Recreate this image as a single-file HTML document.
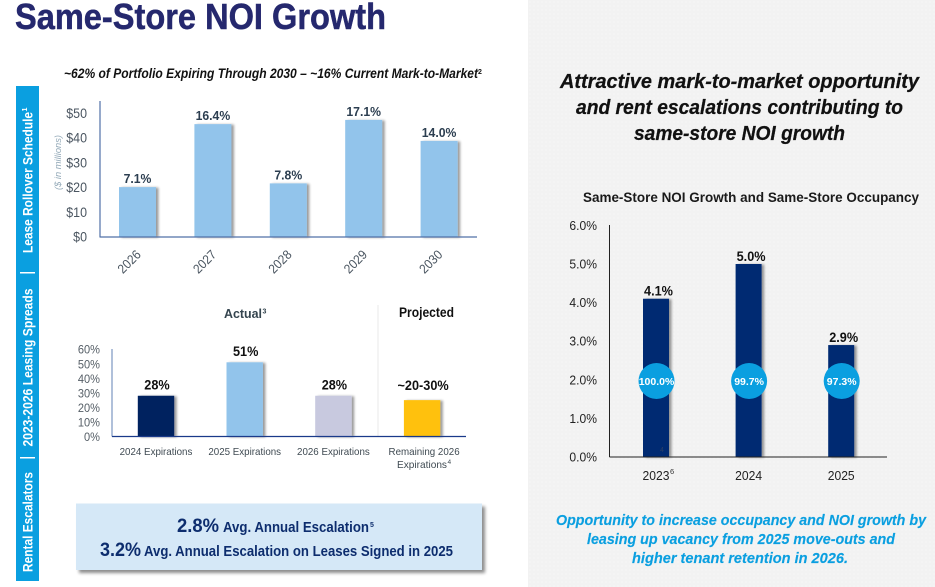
<!DOCTYPE html>
<html lang="en">
<head>
<meta charset="utf-8">
<title>Same-Store NOI Growth</title>
<style>
html,body{margin:0;padding:0;background:#fff;width:935px;height:587px;overflow:hidden}
svg{display:block;font-family:"Liberation Sans",sans-serif}
</style>
</head>
<body>
<svg id="page" width="935" height="587" viewBox="0 0 935 587" xmlns="http://www.w3.org/2000/svg">
<defs>
<pattern id="dots" width="4" height="4" patternUnits="userSpaceOnUse"><rect width="4" height="4" fill="#f2f2f2"/><circle cx="2" cy="2" r="0.7" fill="#f8f8f8"/></pattern>
<filter id="barShadow" x="-30%" y="-10%" width="170%" height="120%"><feGaussianBlur in="SourceAlpha" stdDeviation="1.3"/><feOffset dx="2.5" dy="0.5"/><feComponentTransfer><feFuncA type="linear" slope="0.4"/></feComponentTransfer><feMerge><feMergeNode/><feMergeNode in="SourceGraphic"/></feMerge></filter>
<filter id="boxShadow" x="-5%" y="-10%" width="110%" height="125%"><feGaussianBlur in="SourceAlpha" stdDeviation="1.5"/><feOffset dx="3" dy="3"/><feComponentTransfer><feFuncA type="linear" slope="0.45"/></feComponentTransfer><feMerge><feMergeNode/><feMergeNode in="SourceGraphic"/></feMerge></filter>
</defs>

<rect x="528" y="0" width="407" height="587" fill="url(#dots)"/>

<text x="15" y="29" font-size="36" font-weight="700" fill="#25286e" stroke="#25286e" stroke-width="0.5" textLength="371" lengthAdjust="spacingAndGlyphs">Same-Store NOI Growth</text>

<rect x="16" y="86" width="23" height="495" fill="#0a9fe0"/>
<g fill="#fff" font-size="14" font-weight="700">
<text transform="translate(32.5,253) rotate(-90)" textLength="141" lengthAdjust="spacingAndGlyphs">Lease Rollover Schedule</text>
<text transform="translate(27,111.5) rotate(-90)" font-size="7">1</text>
<rect x="20" y="272" width="15" height="1.5"/>
<text transform="translate(32.5,446.5) rotate(-90)" textLength="158" lengthAdjust="spacingAndGlyphs">2023-2026 Leasing Spreads</text>
<rect x="20" y="457" width="15" height="1.5"/>
<text transform="translate(32.5,572) rotate(-90)" textLength="100" lengthAdjust="spacingAndGlyphs">Rental Escalators</text>
</g>

<text x="64" y="78" font-size="13.5" font-weight="700" font-style="italic" fill="#111" textLength="414" lengthAdjust="spacingAndGlyphs">~62% of Portfolio Expiring Through 2030 – ~16% Current Mark-to-Market</text>
<text x="478" y="74" font-size="7" font-weight="700" fill="#111">2</text>
<text transform="translate(61,190) rotate(-90)" font-size="9.5" font-style="italic" fill="#93a9b8" textLength="55" lengthAdjust="spacingAndGlyphs">($ in millions)</text>
<g id="chart-rollover"></g>

<line x1="378" y1="305" x2="378" y2="436" stroke="#e8e8e8" stroke-width="1"/>
<text x="224" y="318" font-size="13" font-weight="700" fill="#35454f" textLength="38" lengthAdjust="spacingAndGlyphs">Actual</text>
<text x="262.5" y="313.5" font-size="7" font-weight="700" fill="#35454f">3</text>
<text x="399" y="317" font-size="13.5" font-weight="700" fill="#111" textLength="55" lengthAdjust="spacingAndGlyphs">Projected</text>
<g id="chart-spreads"></g>
<text x="397" y="468" font-size="10.5" fill="#3f4a52" textLength="50" lengthAdjust="spacingAndGlyphs">Expirations</text>
<text x="447.5" y="464" font-size="6.5" fill="#3f4a52">4</text>

<rect x="76" y="503.5" width="406" height="66.5" fill="#d5e8f7" filter="url(#boxShadow)"/>
<g fill="#0d2d6e" font-weight="700">
<text x="177" y="532" font-size="19" textLength="42" lengthAdjust="spacingAndGlyphs">2.8%</text>
<text x="223" y="532" font-size="14.5" textLength="146" lengthAdjust="spacingAndGlyphs">Avg. Annual Escalation</text>
<text x="370" y="527" font-size="7">5</text>
<text x="100" y="556" font-size="19" textLength="41" lengthAdjust="spacingAndGlyphs">3.2%</text>
<text x="144" y="556" font-size="14.5" textLength="309" lengthAdjust="spacingAndGlyphs">Avg. Annual Escalation on Leases Signed in 2025</text>
</g>

<g fill="#111" stroke="#111" stroke-width="0.25" font-size="20.5" font-weight="700" font-style="italic">
<text x="560" y="88" textLength="359" lengthAdjust="spacingAndGlyphs">Attractive mark-to-market opportunity</text>
<text x="576" y="114" textLength="327" lengthAdjust="spacingAndGlyphs">and rent escalations contributing to</text>
<text x="634" y="140" textLength="211" lengthAdjust="spacingAndGlyphs">same-store NOI growth</text>
</g>

<text x="583" y="202" font-size="14" font-weight="700" fill="#1a1a1a" textLength="336" lengthAdjust="spacingAndGlyphs">Same-Store NOI Growth and Same-Store Occupancy</text>
<g id="chart-noi"></g>
<text x="670" y="474" font-size="7.5" fill="#333">6</text>
<text x="660" y="452" font-size="7" fill="#2a3f66">4</text>

<g fill="#0a9fe0" stroke="#0a9fe0" stroke-width="0.15" font-size="15" font-weight="700" font-style="italic">
<text x="556" y="525" textLength="370" lengthAdjust="spacingAndGlyphs">Opportunity to increase occupancy and NOI growth by</text>
<text x="587" y="544" textLength="308" lengthAdjust="spacingAndGlyphs">leasing up vacancy from 2025 move-outs and</text>
<text x="632" y="563" textLength="216" lengthAdjust="spacingAndGlyphs">higher tenant retention in 2026.</text>
</g>

<script>
// Lease rollover chart data
var rolloverYears = ['2026','2027','2028','2029','2030'];
var rolloverValues = [20.2,45.7,21.7,47.4,38.9];
var rolloverLabels = ['7.1%','16.4%','7.8%','17.1%','14.0%'];
var rolloverTicks = [0,10,20,30,40,50];

// Leasing spreads chart data
var spreadCategories = ['2024 Expirations','2025 Expirations','2026 Expirations','Remaining 2026'];
var spreadValues = [28,51,28,25];
var spreadLabels = ['28%','51%','28%','~20-30%'];
var spreadColors = ['#02205f','#92c4eb','#c8c9df','#ffc10e'];
var spreadTicks = [0,10,20,30,40,50,60];

// NOI growth and occupancy chart data
var noiYears = ['2023','2024','2025'];
var noiValues = [4.1,5.0,2.9];
var noiLabels = ['4.1%','5.0%','2.9%'];
var occupancyLabels = ['100.0%','99.7%','97.3%'];
var noiTicks = [0,1,2,3,4,5,6];

var NS = 'http://www.w3.org/2000/svg';
function make(tag, parent, attrs, txt){
  var el = document.createElementNS(NS, tag);
  for (var k in attrs) el.setAttribute(k, attrs[k]);
  if (txt !== undefined) el.textContent = txt;
  parent.appendChild(el);
  return el;
}
// Narrow a label horizontally so its taller glyphs keep the reference's width.
function narrow(el, factor){
  el.setAttribute('textLength', el.getComputedTextLength() * factor);
  el.setAttribute('lengthAdjust', 'spacingAndGlyphs');
  return el;
}

// ---------- Lease rollover ----------
(function(){
  var g = document.getElementById('chart-rollover');
  var x0 = 100, x1 = 477, y0 = 237;
  function y(v){ return y0 - v * 2.47; }
  function band(i){ return x0 + 37.5 + i * 75.4; }
  var el;
  rolloverTicks.forEach(function(t){
    el = narrow(make('text', g, {x:87, y:y(t)+4.5, 'text-anchor':'end', 'font-size':13.5, fill:'#4a5560'}, '$'+t), 0.92);
    
    
  });
  rolloverYears.forEach(function(c,i){
    var cx = band(i), top = y(rolloverValues[i]);
    el = make('rect', g, {x:cx-18.5, y:top, width:37, height:y0-top, fill:'#92c4eb', filter:'url(#barShadow)'});
    
    
    el = narrow(make('text', g, {x:cx, y:top-4, 'text-anchor':'middle', 'font-size':13, 'font-weight':700, fill:'#2c3e50'}, rolloverLabels[i]), 0.94);
    
    
    el = narrow(make('text', g, {x:cx-8, y:266, 'text-anchor':'middle', 'font-size':13, fill:'#4a5560', transform:'rotate(-45 '+(cx-8)+' 262)'}, c), 0.92);
    
    
  });
  el = make('line', g, {x1:x0, y1:101, x2:x0, y2:y0+0.5, stroke:'#5070a8', 'stroke-width':1.2});
  
  
  el = make('line', g, {x1:x0, y1:y0, x2:x1, y2:y0, stroke:'#5070a8', 'stroke-width':1.2});
  
  
})();

// ---------- Leasing spreads ----------
(function(){
  var g = document.getElementById('chart-spreads');
  var x0 = 112, x1 = 466, y0 = 436.5;
  function y(v){ return y0 - v * 1.455; }
  function band(i){ return x0 + 44 + i * 88.7; }
  var el;
  spreadTicks.forEach(function(t){
    el = narrow(make('text', g, {x:100, y:y(t)+4.5, 'text-anchor':'end', 'font-size':12, fill:'#555e66'}, t+'%'), 0.92);
    
    
  });
  spreadCategories.forEach(function(c,i){
    var cx = band(i), top = y(spreadValues[i]);
    el = make('rect', g, {x:cx-18.2, y:top, width:36.4, height:y0-top, fill:spreadColors[i], filter:'url(#barShadow)'});
    
    
    el = narrow(make('text', g, {x:cx+1, y:top-(i===3?10:6.5), 'text-anchor':'middle', 'font-size':13.5, 'font-weight':700, fill:'#111'}, spreadLabels[i]), 0.94);
    
    
    el = narrow(make('text', g, {x:cx+(i===3?2:0), y:455, 'text-anchor':'middle', 'font-size':10.5, fill:'#3f4a52'}, c), 0.93);
    
    
  });
  el = make('line', g, {x1:x0, y1:349, x2:x0, y2:y0, stroke:'#7a95c0', 'stroke-width':1.2});
  
  
  el = make('line', g, {x1:x0, y1:y0, x2:x1, y2:y0, stroke:'#1a3a8a', 'stroke-width':1.2});
  
  
})();

// ---------- NOI growth ----------
(function(){
  var g = document.getElementById('chart-noi');
  var x0 = 609.5, x1 = 887, y0 = 457;
  function y(v){ return y0 - v * 38.6; }
  function band(i){ return x0 + 46.5 + i * 92.6; }
  var el;
  noiTicks.forEach(function(t){
    el = narrow(make('text', g, {x:597, y:y(t)+4.5, 'text-anchor':'end', 'font-size':13, fill:'#222'}, t.toFixed(1)+'%'), 0.93);
    
    
  });
  noiYears.forEach(function(c,i){
    var cx = band(i), top = y(noiValues[i]);
    el = make('rect', g, {x:cx-13, y:top, width:26, height:y0-top, fill:'#022c72', filter:'url(#barShadow)'});
    
    
    el = narrow(make('text', g, {x:cx+2.5, y:top-3, 'text-anchor':'middle', 'font-size':13.5, 'font-weight':700, fill:'#111'}, noiLabels[i]), 0.94);
    
    
    el = narrow(make('text', g, {x:cx, y:480, 'text-anchor':'middle', 'font-size':13, fill:'#222'}, c), 0.93);
    
    
    el = make('circle', g, {cx:cx+0.5, cy:381, r:18, fill:'#0a9fe0'});
    
    
    el = make('text', g, {x:cx+0.5, y:385, 'text-anchor':'middle', 'font-size':10.5, 'font-weight':700, fill:'#fff'}, occupancyLabels[i]);
    
    
  });
  el = make('line', g, {x1:x0, y1:225, x2:x0, y2:y0, stroke:'#222', 'stroke-width':1});
  
  
  el = make('line', g, {x1:x0, y1:y0, x2:x1, y2:y0, stroke:'#222', 'stroke-width':1});
  
  
})();
</script>
</svg>
</body>
</html>
